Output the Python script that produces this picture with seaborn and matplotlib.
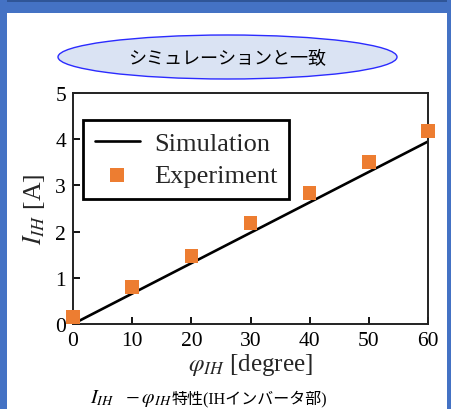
import pandas as pd
import matplotlib
matplotlib.use("Agg")
import matplotlib.pyplot as plt
from matplotlib.patches import Ellipse, Rectangle
import seaborn as sns

# 数据
sim_phi = [0, 60]
sim_current = [0.0, 3.95]
exp_phi = [0, 10, 20, 30, 40, 50, 60]
exp_current = [0.15, 0.80, 1.47, 2.19, 2.84, 3.51, 4.18]
x_ticks = [0, 10, 20, 30, 40, 50, 60]
y_ticks = [0, 1, 2, 3, 4, 5]

title_text = "シミュレーションと一致"
caption_math = r"$I_{IH}\ \ -\varphi_{IH}$"
caption_text = "特性(IHインバータ部)"

sns.set_style("ticks")
plt.rcParams['font.family'] = ['Liberation Serif', 'Noto Sans CJK JP', 'DejaVu Sans']
plt.rcParams['mathtext.fontset'] = 'stix'
plt.rcParams['axes.unicode_minus'] = False

df_sim = pd.DataFrame({'phi': sim_phi, 'current': sim_current})
df_exp = pd.DataFrame({'phi': exp_phi, 'current': exp_current})

W, H = 451, 410
fig = plt.figure(figsize=(W / 100, H / 100), dpi=100)
fig.patch.set_facecolor('white')

# 幻灯片蓝色边框
frame_blue = '#4472c4'
for (x0, y0, w, h, c) in [(0, H - 14, W, 14, frame_blue),
                          (0, H - 3, W, 3, '#2f5597'),
                          (0, 0, 7, H, frame_blue),
                          (447, 0, 4, H, frame_blue)]:
    fig.patches.append(Rectangle((x0 / W, y0 / H), w / W, h / H, transform=fig.transFigure,
                                 facecolor=c, edgecolor='none', zorder=0))

# 标题气泡
fig.patches.append(Ellipse((227.5 / W, 1 - 58 / H), 339 / W, 44 / H,
                           transform=fig.transFigure, facecolor='#dae3f3',
                           edgecolor='#2b2bff', linewidth=1.0, zorder=1))
fig.text(227.5 / W, 1 - 59 / H, title_text, ha='center', va='center',
         fontsize=13, family=['Noto Sans CJK JP', 'DejaVu Sans'], color='black')

ax = fig.add_axes([73 / W, 1 - 325 / H, 355 / W, 231 / H])
ax.set_facecolor('white')

sns.lineplot(data=df_sim, x='phi', y='current', color='black', linewidth=1.9,
             label='Simulation', ax=ax)
sns.scatterplot(data=df_exp, x='phi', y='current', marker='s', s=95,
                color='#ed7d31', edgecolor='none', label='Experiment',
                clip_on=False, zorder=5, ax=ax)

ax.set_xlim(0, 60)
ax.set_ylim(0, 5)
ax.set_xticks(x_ticks)
ax.set_yticks(y_ticks)
ax.tick_params(direction='in', length=5, width=1.3, labelsize=15.5, colors='black', pad=5)
for sp in ax.spines.values():
    sp.set_linewidth(1.4)
    sp.set_color('#222222')

ax.set_xlabel(r"$\varphi_{IH}$ [degree]", fontsize=18, labelpad=1)
ax.set_ylabel(r"$I_{IH}$ [A]", fontsize=18.5, labelpad=6)

leg = ax.legend(loc='upper left', bbox_to_anchor=(0.028, 0.883), borderaxespad=0,
                fontsize=19, frameon=True, fancybox=False, edgecolor='black',
                framealpha=1, handlelength=1.7, handletextpad=0.55, labelspacing=0.3,
                borderpad=0.45, scatterpoints=1)
leg.get_frame().set_linewidth(2.0)

# 图下方的说明文字
cap = fig.text(90 / W, 1 - 399 / H, caption_math, ha='left', va='center',
               fontsize=14.5, color='black')
ax.annotate(caption_text, xy=(1, 0.5), xycoords=cap, ha='left', va='center',
            fontsize=11.5, color='black', annotation_clip=False,
            family=['Liberation Serif', 'Noto Sans CJK JP'])

fig.savefig('out.png', dpi=100, facecolor='white')
